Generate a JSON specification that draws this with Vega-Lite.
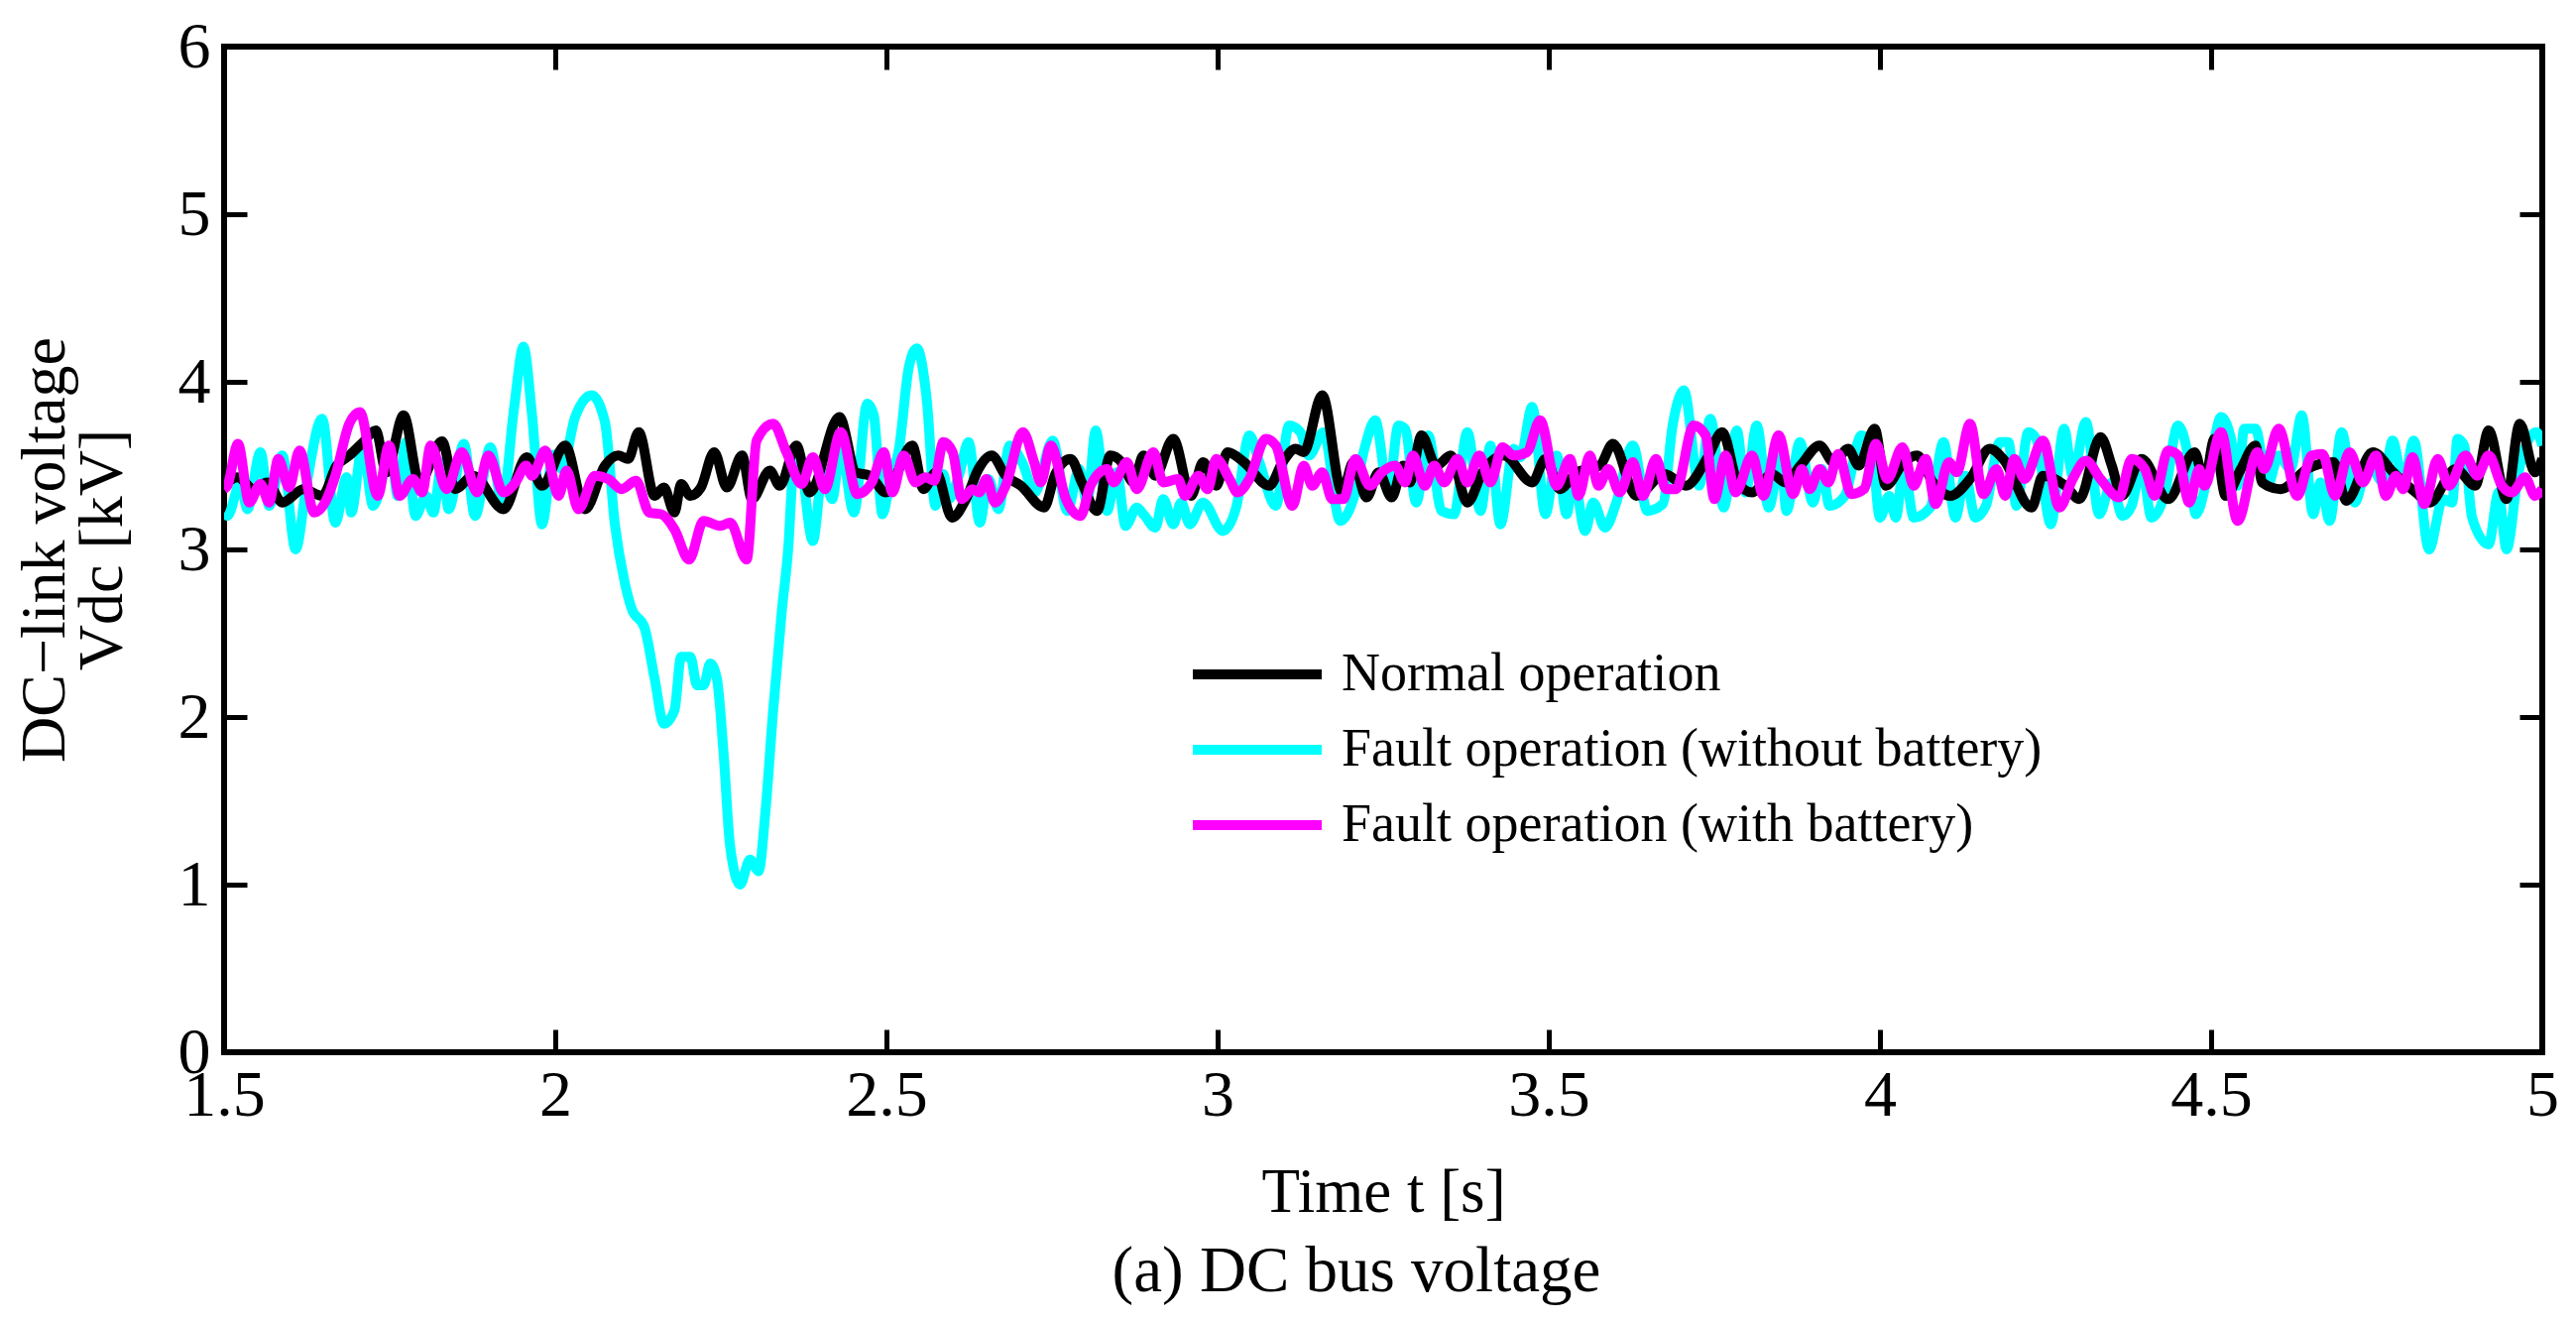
{
  "$schema": "https://vega.github.io/schema/vega-lite/v6.json",
  "width": 2338,
  "height": 1014,
  "autosize": {"type": "none"},
  "padding": {"left": 226, "top": 47, "right": 34, "bottom": 271},
  "background": "white",
  "config": {
    "font": "Liberation Serif",
    "view": {"stroke": "black", "strokeWidth": 6},
    "axis": {
      "domain": false, "grid": false, "labelFlush": false,
      "tickColor": "black", "tickWidth": 5, "tickSize": -23,
      "labelFont": "Liberation Serif", "labelFontSize": 66, "labelColor": "black",
      "titleFont": "Liberation Serif", "titleFontSize": 63, "titleColor": "black", "titleFontWeight": "normal"
    },
    "legend": {
      "orient": "none", "legendX": 1011, "legendY": 602, "direction": "vertical",
      "symbolType": "M-2.5,0H2.5", "symbolSize": 2704, "symbolStrokeWidth": 10,
      "labelFont": "Liberation Serif", "labelFontSize": 54, "labelColor": "black", "labelLimit": 0,
      "labelOffset": 54, "rowPadding": 18, "padding": 0
    }
  },
  "title": {
    "text": "(a) DC bus voltage", "orient": "bottom", "anchor": "middle", "frame": "group", "dx": -27,
    "font": "Liberation Serif", "fontSize": 65, "fontWeight": "normal", "color": "black", "offset": 17
  },
  "datasets": {
    "normal": [
      {"t":1.5,"v":3.38},{"t":1.52,"v":3.43},{"t":1.545,"v":3.36},{"t":1.565,"v":3.4},{"t":1.588,"v":3.28},
      {"t":1.62,"v":3.36},{"t":1.648,"v":3.32},{"t":1.67,"v":3.5},{"t":1.689,"v":3.56},{"t":1.71,"v":3.64},
      {"t":1.729,"v":3.71},{"t":1.745,"v":3.46},{"t":1.771,"v":3.8},{"t":1.795,"v":3.4},{"t":1.829,"v":3.645},
      {"t":1.849,"v":3.36},{"t":1.876,"v":3.44},{"t":1.922,"v":3.24},{"t":1.957,"v":3.55},{"t":1.98,"v":3.38},
      {"t":2.015,"v":3.62},{"t":2.045,"v":3.24},{"t":2.075,"v":3.5},{"t":2.095,"v":3.56},{"t":2.11,"v":3.54},
      {"t":2.126,"v":3.7},{"t":2.15,"v":3.32},{"t":2.164,"v":3.37},{"t":2.18,"v":3.22},{"t":2.19,"v":3.39},
      {"t":2.204,"v":3.32},{"t":2.22,"v":3.37},{"t":2.24,"v":3.58},{"t":2.259,"v":3.37},{"t":2.282,"v":3.56},
      {"t":2.297,"v":3.3},{"t":2.324,"v":3.47},{"t":2.339,"v":3.38},{"t":2.364,"v":3.62},{"t":2.384,"v":3.34},
      {"t":2.429,"v":3.79},{"t":2.454,"v":3.46},{"t":2.475,"v":3.44},{"t":2.499,"v":3.34},{"t":2.539,"v":3.62},
      {"t":2.556,"v":3.36},{"t":2.575,"v":3.46},{"t":2.599,"v":3.19},{"t":2.62,"v":3.3},{"t":2.639,"v":3.48},
      {"t":2.659,"v":3.56},{"t":2.68,"v":3.44},{"t":2.703,"v":3.38},{"t":2.738,"v":3.25},{"t":2.755,"v":3.45},
      {"t":2.778,"v":3.54},{"t":2.795,"v":3.4},{"t":2.818,"v":3.23},{"t":2.838,"v":3.56},{"t":2.855,"v":3.52},
      {"t":2.873,"v":3.4},{"t":2.888,"v":3.56},{"t":2.906,"v":3.44},{"t":2.933,"v":3.66},{"t":2.96,"v":3.32},
      {"t":2.978,"v":3.52},{"t":2.998,"v":3.38},{"t":3.015,"v":3.58},{"t":3.04,"v":3.52},{"t":3.078,"v":3.38},
      {"t":3.098,"v":3.52},{"t":3.118,"v":3.6},{"t":3.13,"v":3.58},{"t":3.158,"v":3.92},{"t":3.188,"v":3.34},
      {"t":3.205,"v":3.52},{"t":3.225,"v":3.31},{"t":3.243,"v":3.46},{"t":3.263,"v":3.31},{"t":3.28,"v":3.5},
      {"t":3.29,"v":3.4},{"t":3.308,"v":3.68},{"t":3.33,"v":3.5},{"t":3.352,"v":3.56},{"t":3.377,"v":3.28},
      {"t":3.4,"v":3.46},{"t":3.432,"v":3.56},{"t":3.475,"v":3.4},{"t":3.495,"v":3.54},{"t":3.517,"v":3.36},
      {"t":3.542,"v":3.46},{"t":3.577,"v":3.5},{"t":3.597,"v":3.63},{"t":3.632,"v":3.32},{"t":3.675,"v":3.45},
      {"t":3.707,"v":3.38},{"t":3.74,"v":3.55},{"t":3.762,"v":3.7},{"t":3.785,"v":3.4},{"t":3.807,"v":3.34},
      {"t":3.837,"v":3.45},{"t":3.857,"v":3.4},{"t":3.88,"v":3.5},{"t":3.909,"v":3.62},{"t":3.93,"v":3.52},
      {"t":3.952,"v":3.6},{"t":3.968,"v":3.5},{"t":3.992,"v":3.72},{"t":4.009,"v":3.38},{"t":4.036,"v":3.52},
      {"t":4.056,"v":3.56},{"t":4.08,"v":3.4},{"t":4.106,"v":3.32},{"t":4.136,"v":3.42},{"t":4.166,"v":3.6},
      {"t":4.186,"v":3.54},{"t":4.229,"v":3.25},{"t":4.246,"v":3.44},{"t":4.28,"v":3.38},{"t":4.301,"v":3.3},
      {"t":4.333,"v":3.67},{"t":4.35,"v":3.5},{"t":4.365,"v":3.32},{"t":4.395,"v":3.54},{"t":4.435,"v":3.3},
      {"t":4.475,"v":3.58},{"t":4.49,"v":3.4},{"t":4.505,"v":3.66},{"t":4.522,"v":3.32},{"t":4.545,"v":3.48},
      {"t":4.567,"v":3.62},{"t":4.577,"v":3.4},{"t":4.605,"v":3.36},{"t":4.645,"v":3.48},{"t":4.685,"v":3.52},
      {"t":4.704,"v":3.29},{"t":4.744,"v":3.58},{"t":4.775,"v":3.46},{"t":4.809,"v":3.34},{"t":4.83,"v":3.28},
      {"t":4.869,"v":3.48},{"t":4.899,"v":3.38},{"t":4.919,"v":3.71},{"t":4.946,"v":3.3},{"t":4.966,"v":3.75},
      {"t":4.989,"v":3.46},{"t":5.0,"v":3.54}
    ],
    "nobattery": [
      {"t":1.5,"v":3.22},{"t":1.505,"v":3.2},{"t":1.525,"v":3.4},{"t":1.535,"v":3.24},{"t":1.555,"v":3.58},
      {"t":1.568,"v":3.26},{"t":1.588,"v":3.56},{"t":1.608,"v":3.0},{"t":1.625,"v":3.4},{"t":1.648,"v":3.78},
      {"t":1.668,"v":3.16},{"t":1.685,"v":3.43},{"t":1.692,"v":3.22},{"t":1.709,"v":3.62},{"t":1.725,"v":3.26},
      {"t":1.752,"v":3.58},{"t":1.762,"v":3.32},{"t":1.775,"v":3.64},{"t":1.789,"v":3.2},{"t":1.805,"v":3.32},
      {"t":1.816,"v":3.22},{"t":1.829,"v":3.52},{"t":1.839,"v":3.24},{"t":1.862,"v":3.63},{"t":1.879,"v":3.2},
      {"t":1.902,"v":3.61},{"t":1.92,"v":3.28},{"t":1.938,"v":3.85},{"t":1.952,"v":4.21},{"t":1.965,"v":3.8},
      {"t":1.98,"v":3.15},{"t":1.997,"v":3.565},{"t":2.01,"v":3.48},{"t":2.03,"v":3.79},{"t":2.055,"v":3.92},
      {"t":2.075,"v":3.76},{"t":2.09,"v":3.15},{"t":2.105,"v":2.8},{"t":2.115,"v":2.65},{"t":2.135,"v":2.53},
      {"t":2.15,"v":2.23},{"t":2.164,"v":1.96},{"t":2.18,"v":2.04},{"t":2.19,"v":2.36},{"t":2.204,"v":2.36},
      {"t":2.214,"v":2.19},{"t":2.224,"v":2.19},{"t":2.234,"v":2.32},{"t":2.244,"v":2.23},{"t":2.254,"v":1.79},
      {"t":2.264,"v":1.23},{"t":2.279,"v":1.0},{"t":2.294,"v":1.15},{"t":2.307,"v":1.08},{"t":2.317,"v":1.42},
      {"t":2.329,"v":2.04},{"t":2.342,"v":2.63},{"t":2.352,"v":3.02},{"t":2.359,"v":3.47},{"t":2.367,"v":3.58},
      {"t":2.389,"v":3.05},{"t":2.404,"v":3.47},{"t":2.418,"v":3.3},{"t":2.431,"v":3.6},{"t":2.451,"v":3.22},
      {"t":2.471,"v":3.87},{"t":2.481,"v":3.8},{"t":2.494,"v":3.21},{"t":2.505,"v":3.4},{"t":2.519,"v":3.6},
      {"t":2.534,"v":4.09},{"t":2.546,"v":4.2},{"t":2.561,"v":3.89},{"t":2.574,"v":3.26},{"t":2.586,"v":3.45},
      {"t":2.594,"v":3.3},{"t":2.61,"v":3.45},{"t":2.624,"v":3.64},{"t":2.641,"v":3.16},{"t":2.654,"v":3.42},
      {"t":2.669,"v":3.24},{"t":2.686,"v":3.62},{"t":2.705,"v":3.52},{"t":2.724,"v":3.34},{"t":2.751,"v":3.65},
      {"t":2.773,"v":3.23},{"t":2.791,"v":3.48},{"t":2.803,"v":3.28},{"t":2.816,"v":3.71},{"t":2.833,"v":3.23},
      {"t":2.848,"v":3.46},{"t":2.861,"v":3.14},{"t":2.878,"v":3.25},{"t":2.89,"v":3.2},{"t":2.906,"v":3.13},
      {"t":2.918,"v":3.3},{"t":2.933,"v":3.15},{"t":2.945,"v":3.28},{"t":2.958,"v":3.15},{"t":2.978,"v":3.28},
      {"t":3.008,"v":3.11},{"t":3.028,"v":3.25},{"t":3.048,"v":3.68},{"t":3.063,"v":3.52},{"t":3.088,"v":3.26},
      {"t":3.108,"v":3.74},{"t":3.125,"v":3.7},{"t":3.138,"v":3.56},{"t":3.16,"v":3.7},{"t":3.185,"v":3.17},
      {"t":3.205,"v":3.3},{"t":3.223,"v":3.62},{"t":3.238,"v":3.77},{"t":3.258,"v":3.34},{"t":3.273,"v":3.74},
      {"t":3.283,"v":3.72},{"t":3.3,"v":3.28},{"t":3.318,"v":3.68},{"t":3.338,"v":3.23},{"t":3.357,"v":3.21},
      {"t":3.377,"v":3.7},{"t":3.397,"v":3.23},{"t":3.412,"v":3.62},{"t":3.427,"v":3.15},{"t":3.447,"v":3.6},
      {"t":3.457,"v":3.55},{"t":3.475,"v":3.85},{"t":3.495,"v":3.21},{"t":3.512,"v":3.56},{"t":3.527,"v":3.21},
      {"t":3.537,"v":3.44},{"t":3.555,"v":3.11},{"t":3.567,"v":3.28},{"t":3.585,"v":3.13},{"t":3.602,"v":3.28},
      {"t":3.627,"v":3.62},{"t":3.649,"v":3.23},{"t":3.672,"v":3.27},{"t":3.687,"v":3.74},{"t":3.704,"v":3.95},
      {"t":3.727,"v":3.38},{"t":3.744,"v":3.78},{"t":3.764,"v":3.25},{"t":3.784,"v":3.71},{"t":3.797,"v":3.34},
      {"t":3.814,"v":3.74},{"t":3.832,"v":3.25},{"t":3.85,"v":3.55},{"t":3.859,"v":3.23},{"t":3.879,"v":3.64},
      {"t":3.899,"v":3.28},{"t":3.912,"v":3.48},{"t":3.924,"v":3.26},{"t":3.947,"v":3.32},{"t":3.972,"v":3.68},
      {"t":3.987,"v":3.62},{"t":4.0,"v":3.19},{"t":4.014,"v":3.32},{"t":4.024,"v":3.19},{"t":4.036,"v":3.5},
      {"t":4.051,"v":3.19},{"t":4.076,"v":3.25},{"t":4.096,"v":3.64},{"t":4.114,"v":3.19},{"t":4.129,"v":3.44},
      {"t":4.144,"v":3.19},{"t":4.16,"v":3.26},{"t":4.181,"v":3.64},{"t":4.194,"v":3.64},{"t":4.206,"v":3.26},
      {"t":4.224,"v":3.7},{"t":4.236,"v":3.66},{"t":4.258,"v":3.15},{"t":4.278,"v":3.72},{"t":4.291,"v":3.44},
      {"t":4.311,"v":3.76},{"t":4.331,"v":3.21},{"t":4.35,"v":3.4},{"t":4.366,"v":3.2},{"t":4.38,"v":3.26},
      {"t":4.395,"v":3.5},{"t":4.41,"v":3.19},{"t":4.43,"v":3.33},{"t":4.45,"v":3.74},{"t":4.465,"v":3.56},
      {"t":4.477,"v":3.21},{"t":4.497,"v":3.48},{"t":4.515,"v":3.79},{"t":4.53,"v":3.66},{"t":4.54,"v":3.38},
      {"t":4.55,"v":3.72},{"t":4.567,"v":3.72},{"t":4.585,"v":3.38},{"t":4.602,"v":3.56},{"t":4.62,"v":3.48},
      {"t":4.637,"v":3.8},{"t":4.654,"v":3.21},{"t":4.665,"v":3.4},{"t":4.679,"v":3.17},{"t":4.697,"v":3.7},
      {"t":4.717,"v":3.28},{"t":4.737,"v":3.52},{"t":4.76,"v":3.4},{"t":4.774,"v":3.65},{"t":4.79,"v":3.4},
      {"t":4.806,"v":3.65},{"t":4.829,"v":3.0},{"t":4.85,"v":3.3},{"t":4.864,"v":3.28},{"t":4.872,"v":3.66},
      {"t":4.882,"v":3.62},{"t":4.894,"v":3.19},{"t":4.919,"v":3.03},{"t":4.934,"v":3.34},{"t":4.946,"v":3.0},
      {"t":4.964,"v":3.46},{"t":4.991,"v":3.7},{"t":5.0,"v":3.62}
    ],
    "battery": [
      {"t":1.5,"v":3.36},{"t":1.505,"v":3.38},{"t":1.521,"v":3.63},{"t":1.538,"v":3.28},{"t":1.555,"v":3.39},
      {"t":1.568,"v":3.28},{"t":1.582,"v":3.54},{"t":1.598,"v":3.37},{"t":1.614,"v":3.59},{"t":1.636,"v":3.22},
      {"t":1.655,"v":3.3},{"t":1.668,"v":3.44},{"t":1.689,"v":3.75},{"t":1.705,"v":3.82},{"t":1.732,"v":3.32},
      {"t":1.749,"v":3.62},{"t":1.765,"v":3.32},{"t":1.785,"v":3.42},{"t":1.799,"v":3.34},{"t":1.812,"v":3.62},
      {"t":1.836,"v":3.36},{"t":1.859,"v":3.58},{"t":1.882,"v":3.34},{"t":1.899,"v":3.56},{"t":1.922,"v":3.34},
      {"t":1.94,"v":3.4},{"t":1.956,"v":3.5},{"t":1.965,"v":3.44},{"t":1.985,"v":3.59},{"t":2.005,"v":3.32},
      {"t":2.017,"v":3.47},{"t":2.035,"v":3.24},{"t":2.06,"v":3.44},{"t":2.08,"v":3.42},{"t":2.1,"v":3.36},
      {"t":2.122,"v":3.41},{"t":2.142,"v":3.22},{"t":2.16,"v":3.21},{"t":2.18,"v":3.12},{"t":2.202,"v":2.94},
      {"t":2.224,"v":3.17},{"t":2.249,"v":3.14},{"t":2.264,"v":3.16},{"t":2.289,"v":2.94},{"t":2.304,"v":3.65},
      {"t":2.329,"v":3.75},{"t":2.349,"v":3.58},{"t":2.372,"v":3.39},{"t":2.389,"v":3.55},{"t":2.407,"v":3.36},
      {"t":2.431,"v":3.7},{"t":2.456,"v":3.33},{"t":2.478,"v":3.4},{"t":2.496,"v":3.58},{"t":2.509,"v":3.34},
      {"t":2.526,"v":3.56},{"t":2.544,"v":3.4},{"t":2.559,"v":3.43},{"t":2.572,"v":3.41},{"t":2.586,"v":3.64},
      {"t":2.6,"v":3.58},{"t":2.614,"v":3.3},{"t":2.63,"v":3.36},{"t":2.64,"v":3.34},{"t":2.651,"v":3.42},
      {"t":2.664,"v":3.28},{"t":2.68,"v":3.38},{"t":2.706,"v":3.7},{"t":2.723,"v":3.52},{"t":2.733,"v":3.4},
      {"t":2.748,"v":3.62},{"t":2.771,"v":3.3},{"t":2.793,"v":3.2},{"t":2.808,"v":3.38},{"t":2.833,"v":3.48},
      {"t":2.843,"v":3.4},{"t":2.863,"v":3.52},{"t":2.878,"v":3.36},{"t":2.903,"v":3.58},{"t":2.918,"v":3.4},
      {"t":2.94,"v":3.42},{"t":2.951,"v":3.32},{"t":2.971,"v":3.44},{"t":2.985,"v":3.36},{"t":2.998,"v":3.54},
      {"t":3.018,"v":3.42},{"t":3.03,"v":3.34},{"t":3.048,"v":3.42},{"t":3.073,"v":3.66},{"t":3.088,"v":3.62},
      {"t":3.113,"v":3.26},{"t":3.13,"v":3.5},{"t":3.143,"v":3.38},{"t":3.158,"v":3.46},{"t":3.173,"v":3.3},
      {"t":3.19,"v":3.3},{"t":3.208,"v":3.54},{"t":3.23,"v":3.38},{"t":3.248,"v":3.46},{"t":3.268,"v":3.5},
      {"t":3.283,"v":3.4},{"t":3.295,"v":3.56},{"t":3.313,"v":3.38},{"t":3.327,"v":3.5},{"t":3.342,"v":3.4},
      {"t":3.362,"v":3.54},{"t":3.377,"v":3.4},{"t":3.395,"v":3.56},{"t":3.412,"v":3.4},{"t":3.43,"v":3.61},
      {"t":3.447,"v":3.56},{"t":3.467,"v":3.58},{"t":3.487,"v":3.77},{"t":3.512,"v":3.38},{"t":3.532,"v":3.54},
      {"t":3.545,"v":3.32},{"t":3.562,"v":3.56},{"t":3.575,"v":3.38},{"t":3.59,"v":3.48},{"t":3.607,"v":3.34},
      {"t":3.627,"v":3.52},{"t":3.642,"v":3.32},{"t":3.662,"v":3.54},{"t":3.677,"v":3.36},{"t":3.692,"v":3.36},
      {"t":3.719,"v":3.74},{"t":3.737,"v":3.68},{"t":3.75,"v":3.3},{"t":3.767,"v":3.56},{"t":3.782,"v":3.34},
      {"t":3.807,"v":3.56},{"t":3.824,"v":3.32},{"t":3.847,"v":3.68},{"t":3.869,"v":3.33},{"t":3.882,"v":3.48},
      {"t":3.894,"v":3.36},{"t":3.909,"v":3.48},{"t":3.922,"v":3.4},{"t":3.937,"v":3.57},{"t":3.957,"v":3.33},
      {"t":3.976,"v":3.36},{"t":3.994,"v":3.63},{"t":4.011,"v":3.42},{"t":4.034,"v":3.61},{"t":4.051,"v":3.38},
      {"t":4.069,"v":3.54},{"t":4.084,"v":3.27},{"t":4.104,"v":3.52},{"t":4.116,"v":3.46},{"t":4.136,"v":3.75},
      {"t":4.156,"v":3.33},{"t":4.176,"v":3.48},{"t":4.189,"v":3.32},{"t":4.203,"v":3.54},{"t":4.218,"v":3.42},
      {"t":4.246,"v":3.65},{"t":4.271,"v":3.25},{"t":4.291,"v":3.42},{"t":4.311,"v":3.53},{"t":4.333,"v":3.42},
      {"t":4.361,"v":3.31},{"t":4.38,"v":3.54},{"t":4.4,"v":3.48},{"t":4.415,"v":3.32},{"t":4.435,"v":3.59},
      {"t":4.45,"v":3.56},{"t":4.467,"v":3.28},{"t":4.482,"v":3.48},{"t":4.49,"v":3.38},{"t":4.515,"v":3.7},
      {"t":4.54,"v":3.17},{"t":4.57,"v":3.58},{"t":4.58,"v":3.48},{"t":4.602,"v":3.72},{"t":4.63,"v":3.32},
      {"t":4.652,"v":3.56},{"t":4.668,"v":3.57},{"t":4.687,"v":3.32},{"t":4.709,"v":3.58},{"t":4.729,"v":3.4},
      {"t":4.749,"v":3.56},{"t":4.764,"v":3.32},{"t":4.779,"v":3.44},{"t":4.79,"v":3.36},{"t":4.804,"v":3.55},
      {"t":4.822,"v":3.27},{"t":4.842,"v":3.54},{"t":4.859,"v":3.38},{"t":4.884,"v":3.56},{"t":4.902,"v":3.44},
      {"t":4.919,"v":3.56},{"t":4.939,"v":3.38},{"t":4.954,"v":3.34},{"t":4.974,"v":3.43},{"t":4.989,"v":3.32},
      {"t":5.0,"v":3.36}
    ]
  },
  "layer": [
    {
      "layer": [
        {
          "data": {"name": "nobattery"},
          "mark": {"type": "line", "strokeWidth": 10, "interpolate": "monotone", "clip": true, "strokeJoin": "round"},
          "encoding": {
            "x": {"field": "t", "type": "quantitative", "scale": {"domain": [1.5, 5], "nice": false, "zero": false},
                  "axis": {"orient": "bottom", "values": [1.5, 2, 2.5, 3, 3.5, 4, 4.5, 5], "format": "~g", "labelPadding": 34, "titlePadding": 34},
                  "title": "Time  t [s]"},
            "y": {"field": "v", "type": "quantitative", "scale": {"domain": [0, 6], "nice": false},
                  "axis": {"orient": "left", "values": [0, 1, 2, 3, 4, 5, 6], "format": "~g", "labelPadding": 37, "titlePadding": 44, "titleFontSize": 64, "titleLineHeight": 58},
                  "title": ["DC−link voltage", "Vdc [kV]"]},
            "color": {"datum": "Fault operation (without battery)", "type": "nominal",
                      "scale": {"domain": ["Normal operation", "Fault operation (without battery)", "Fault operation (with battery)"],
                                "range": ["#000000", "#00FFFF", "#FF00FF"]},
                      "legend": {"title": null}}
          }
        },
        {
          "data": {"name": "normal"},
          "mark": {"type": "line", "strokeWidth": 10, "interpolate": "monotone", "clip": true, "strokeJoin": "round"},
          "encoding": {
            "x": {"field": "t", "type": "quantitative"},
            "y": {"field": "v", "type": "quantitative"},
            "color": {"datum": "Normal operation", "type": "nominal"}
          }
        }
      ]
    },
    {
      "data": {"name": "battery"},
      "mark": {"type": "line", "strokeWidth": 10, "interpolate": "monotone", "clip": true, "strokeJoin": "round"},
      "encoding": {
        "x": {"field": "t", "type": "quantitative",
              "axis": {"orient": "top", "values": [1.5, 2, 2.5, 3, 3.5, 4, 4.5, 5], "labels": false, "title": null}},
        "y": {"field": "v", "type": "quantitative",
              "axis": {"orient": "right", "values": [0, 1, 2, 3, 4, 5, 6], "labels": false, "title": null}},
        "color": {"datum": "Fault operation (with battery)", "type": "nominal"}
      }
    }
  ],
  "resolve": {"axis": {"x": "independent", "y": "independent"}}
}
